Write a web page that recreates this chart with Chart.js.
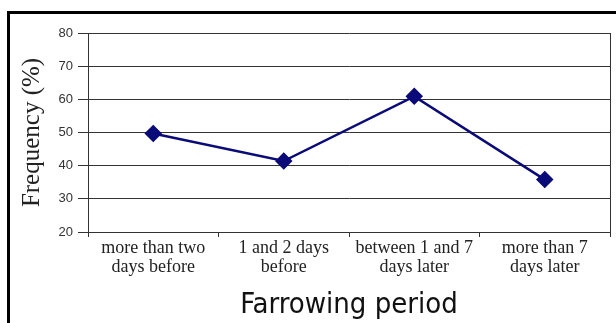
<!DOCTYPE html>
<html lang="en">
<head>
    <meta charset="UTF-8">
    <title>Farrowing period</title>
    <script src="https://cdn.jsdelivr.net/npm/chart.js"></script>
    <style>
        body { margin: 0; background: #fff; }
        #wrap { position: relative; width: 616px; height: 323px; }
        #frame {
            position: absolute; left: 7px; top: 11px; right: 0; bottom: 0;
            border-left: 3px solid #000; border-top: 3px solid #000;
            pointer-events: none;
        }
    </style>
</head>
<body>
    <div id="wrap">
        <canvas id="periodChart" width="616" height="323"></canvas>
        <div id="frame"></div>
    </div>

    <script>
        // 分娩時期ごとの頻度 (%)
        const periods = [
            ['more than two', 'days before'],
            ['1 and 2 days', 'before'],
            ['between 1 and 7', 'days later'],
            ['more than 7', 'days later']
        ];
        const frequency = [49.7, 41.4, 60.9, 35.8];
        const yTicks = [20, 30, 40, 50, 60, 70, 80];

        const gridColor = '#333';

        const ctx = document.getElementById('periodChart').getContext('2d');
        const periodChart = new Chart(ctx, {
            type: 'line',
            data: {
                labels: periods,
                datasets: [{
                    label: 'Frequency (%)',
                    data: frequency,
                    borderColor: '#0a0a78',
                    backgroundColor: '#0a0a78',
                    borderWidth: 2.5,
                    pointStyle: 'rectRot',
                    pointRadius: 7,
                    pointHoverRadius: 7,
                    tension: 0
                }]
            },
            options: {
                responsive: false,
                animation: false,
                layout: { autoPadding: false, padding: { left: 10, top: 33, right: 6, bottom: 0 } },
                plugins: {
                    legend: { display: false },
                    tooltip: { enabled: false }
                },
                scales: {
                    x: {
                        offset: true,
                        grid: {
                            offset: true,
                            tickLength: 5,
                            // 枠として左右端の線だけ描く
                            color: c => (c.type === 'scale' || c.index === 0) ? gridColor : 'rgba(0,0,0,0)',
                            tickColor: gridColor
                        },
                        border: { display: true, color: gridColor },
                        ticks: {
                            color: '#222',
                            padding: 1,
                            maxRotation: 0,
                            autoSkip: false,
                            font: { family: "'Liberation Serif', 'Times New Roman', serif", size: 18, lineHeight: 1.1 }
                        },
                        title: {
                            display: true,
                            text: 'Farrowing period',
                            color: '#111',
                            padding: { top: 0, bottom: 0 },
                            font: { family: "'Liberation Sans Narrow', 'DejaVu Sans Condensed', sans-serif", size: 29, lineHeight: 1.2 }
                        },
                        afterFit: s => { s.height = 91; }
                    },
                    y: {
                        min: yTicks[0],
                        max: yTicks[yTicks.length - 1],
                        afterBuildTicks: s => { s.ticks = yTicks.map(v => ({ value: v })); },
                        grid: { color: gridColor, tickLength: 10 },
                        border: { display: true, color: gridColor },
                        ticks: {
                            color: '#333',
                            padding: 5,
                            font: { family: "'Liberation Sans', Arial, sans-serif", size: 13 }
                        },
                        title: {
                            display: true,
                            text: 'Frequency (%)',
                            color: '#222',
                            padding: { top: 7, bottom: 0 },
                            font: { family: "'Liberation Serif', 'Times New Roman', serif", size: 25, lineHeight: 1.2 }
                        },
                        afterFit: s => { s.width = 78; }
                    }
                }
            }
        });
    </script>
</body>
</html>
